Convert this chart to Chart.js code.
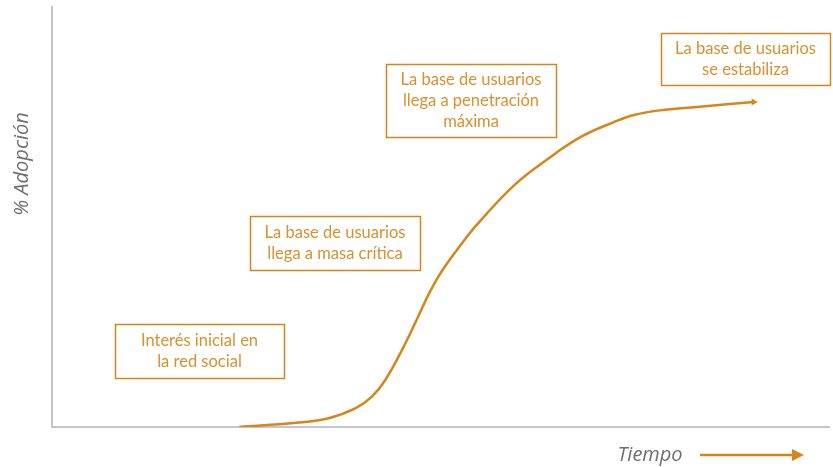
<!DOCTYPE html>
<html>
<head>
<meta charset="utf-8">
<script src="https://cdn.jsdelivr.net/npm/chart.js@4"></script>
<style>
  html, body { margin: 0; padding: 0; background: #fff; }
  #wrap { width: 833px; height: 467px; position: relative; }
</style>
</head>
<body>
<div id="wrap"><canvas id="adopcion"></canvas></div>
<script>
// tiempo (0-100) y % de adopción
const tiempo = [24.1, 31.4, 35.6, 39.1, 41.1, 42.9, 45.5, 47.1, 48.7, 50.2, 52.3, 54.6, 59.5, 63.8, 68.0, 72.3, 74.9, 78.7, 83.0, 87.2, 90.3];
const adopcion = [0, 1.0, 2.1, 4.5, 7.1, 11.2, 20.0, 26.2, 32.4, 37.2, 42.6, 48.0, 57.6, 63.8, 69.0, 72.6, 74.3, 75.5, 76.2, 76.9, 77.4];

const etapas = [
  ["Interés inicial en", "la red social"],
  ["La base de usuarios", "llega a masa crítica"],
  ["La base de usuarios", "llega a penetración", "máxima"],
  ["La base de usuarios", "se estabiliza"],
];
// cajas en pixeles: x, y, ancho, alto
const cajas = [
  [115, 324, 169, 54],
  [250, 216, 170, 54],
  [386, 64, 170, 73],
  [661, 33, 169, 52],
];

const naranja = "#D4861C";
const gris = "#C4C4CC";

const puntos = tiempo.map((t, i) => ({ x: t, y: adopcion[i] }));

const anotaciones = {
  id: "anotaciones",
  afterDraw(chart) {
    const ctx = chart.ctx;
    ctx.save();
    // cajas con texto
    ctx.font = "16.5px Lato";
    ctx.textAlign = "center";
    ctx.textBaseline = "middle";
    cajas.forEach((c, i) => {
      ctx.strokeStyle = naranja;
      ctx.lineWidth = 1.5;
      ctx.strokeRect(c[0] + 0.5, c[1] + 0.5, c[2], c[3]);
      ctx.fillStyle = "#D9902F";
      const lineas = etapas[i];
      const h = 21;
      const y0 = c[1] + c[3] / 2 - ((lineas.length - 1) * h) / 2;
      lineas.forEach((l, j) => ctx.fillText(l, c[0] + c[2] / 2, y0 + j * h));
    });

    // títulos de ejes
    ctx.fillStyle = "#6E6E6E";
    ctx.font = "italic 20px 'Open Sans'";
    ctx.save();
    ctx.translate(22, 164);
    ctx.rotate(-Math.PI / 2);
    ctx.fillText("% Adopción", 0, 0);
    ctx.restore();
    ctx.fillText("Tiempo", 650, 455);

    // flecha de tiempo
    ctx.strokeStyle = naranja;
    ctx.lineWidth = 2.5;
    ctx.beginPath();
    ctx.moveTo(700, 455);
    ctx.lineTo(795, 455);
    ctx.stroke();
    ctx.fillStyle = naranja;
    ctx.beginPath();
    ctx.moveTo(804, 455);
    ctx.lineTo(792, 449);
    ctx.lineTo(792, 461);
    ctx.closePath();
    ctx.fill();
    ctx.restore();
  },
};

new Chart(document.getElementById("adopcion"), {
  type: "line",
  data: {
    datasets: [
      {
        data: puntos,
        borderColor: naranja,
        backgroundColor: naranja,
        borderWidth: 2.5,
        tension: 0.4,
        pointRadius: (c) => (c.dataIndex === puntos.length - 1 ? 4 : 0),
        pointStyle: "triangle",
        rotation: 90,
        pointBorderWidth: 0,
      },
    ],
  },
  options: {
    responsive: true,
    maintainAspectRatio: false,
    animation: false,
    layout: { padding: { left: 52, top: 7, bottom: 40, right: 0 } },
    plugins: { legend: { display: false }, tooltip: { enabled: false } },
    scales: {
      x: {
        type: "linear",
        min: 0,
        max: 100,
        grid: { display: false },
        ticks: { display: false },
        border: { color: gris, width: 2 },
        afterFit: (s) => { s.height = 0; s.paddingLeft = 0; s.paddingRight = 0; },
      },
      y: {
        min: 0,
        max: 100,
        grid: { display: false },
        ticks: { display: false },
        border: { color: gris, width: 2 },
        afterFit: (s) => { s.width = 0; s.paddingTop = 0; s.paddingBottom = 0; },
      },
    },
  },
  plugins: [anotaciones],
});
</script>
</body>
</html>
